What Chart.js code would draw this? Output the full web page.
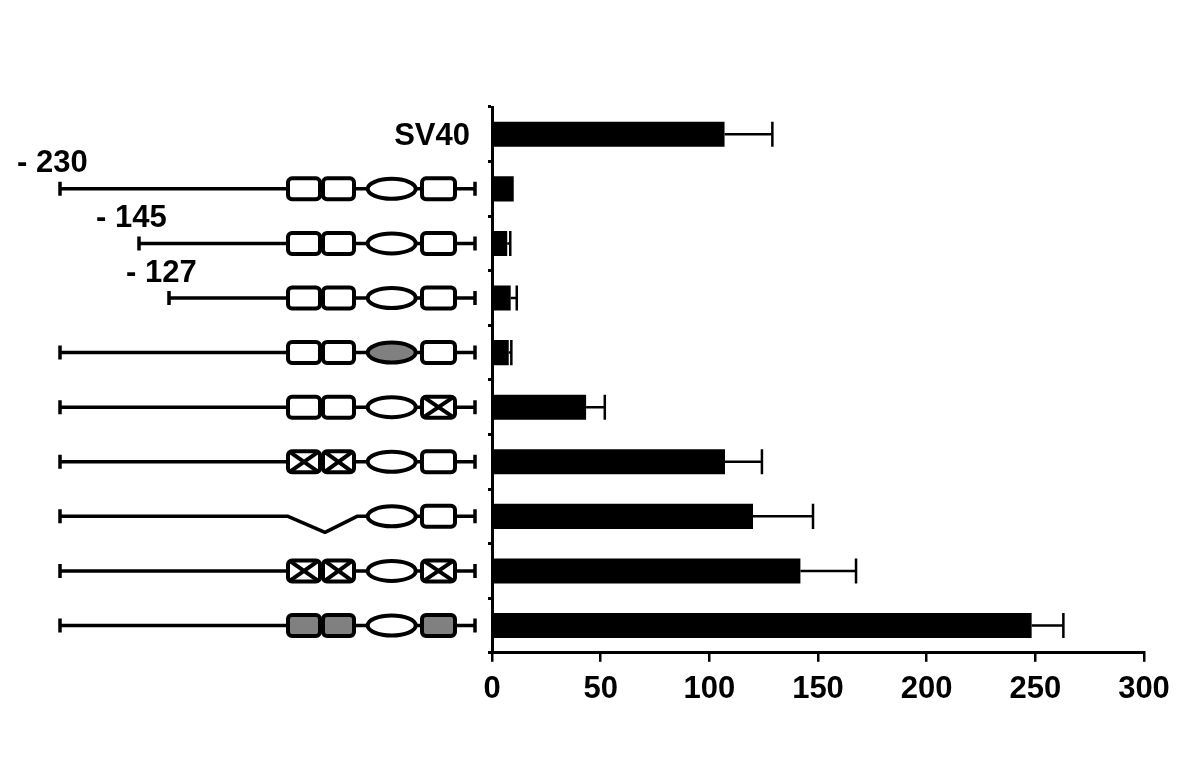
<!DOCTYPE html>
<html>
<head>
<meta charset="utf-8">
<script src="https://cdn.jsdelivr.net/npm/chart.js@4.4.1/dist/chart.umd.min.js"></script>
<style>
  html, body { margin: 0; padding: 0; background: #fff; }
  #chart { display: block; }
</style>
</head>
<body>
<canvas id="chart" width="1200" height="763"></canvas>
<script>
// constructs, top to bottom
const constructs = ['SV40', '-230', '-145', '-127', 'mutOval', 'mutBox3', 'mutBox12', 'delBox12', 'mutBox123', 'greyBox123'];
const activity = [107, 10, 7, 8.6, 7.7, 43.3, 107.2, 120.1, 141.9, 248.3];
const errHigh = [22, 0, 1.4, 2.8, 1.2, 8.6, 17, 27.6, 25.6, 14.6];
const xTicks = [0, 50, 100, 150, 200, 250, 300];

// schematic of each construct: left label, and state of box1, box2, oval, box3
const startLabels = ['', '- 230', '- 145', '- 127', '', '', '', '', '', ''];
const box1State = ['', 'open', 'open', 'open', 'open', 'open', 'cross', 'del', 'cross', 'grey'];
const box2State = ['', 'open', 'open', 'open', 'open', 'open', 'cross', 'del', 'cross', 'grey'];
const ovalState = ['', 'open', 'open', 'open', 'grey', 'open', 'open', 'open', 'open', 'open'];
const box3State = ['', 'open', 'open', 'open', 'open', 'cross', 'open', 'open', 'cross', 'grey'];

const FONT = "'Liberation Sans', Arial, sans-serif";
const GREY = '#808080';

function roundBox(ctx, x1, x2, cy, state) {
  const h = 21, r = 4;
  ctx.beginPath();
  ctx.roundRect(x1, cy - h / 2, x2 - x1, h, r);
  ctx.fillStyle = state === 'grey' ? GREY : '#fff';
  ctx.fill();
  ctx.stroke();
  if (state === 'cross') {
    ctx.beginPath();
    ctx.moveTo(x1 + 1, cy - h / 2);
    ctx.lineTo(x2 - 1, cy + h / 2);
    ctx.moveTo(x2 - 1, cy - h / 2);
    ctx.lineTo(x1 + 1, cy + h / 2);
    ctx.stroke();
  }
}

const schematicPlugin = {
  id: 'schematic',
  afterDraw(chart) {
    const ctx = chart.ctx;
    const yScale = chart.scales.y;
    ctx.save();
    ctx.strokeStyle = '#000';
    ctx.fillStyle = '#000';
    ctx.lineCap = 'butt';
    ctx.lineJoin = 'round';
    const starts = { '- 230': 60, '- 145': 139, '- 127': 169 };
    for (let i = 0; i < constructs.length; i++) {
      const cy = yScale.getPixelForValue(i);
      if (i === 0) {
        ctx.font = 'bold 31px ' + FONT;
        ctx.textAlign = 'right';
        ctx.textBaseline = 'middle';
        ctx.fillStyle = '#000';
        ctx.fillText(constructs[0], 470, cy + 2);
        continue;
      }
      const x0 = starts[startLabels[i]] || 60;
      if (startLabels[i]) {
        ctx.font = 'bold 31px ' + FONT;
        ctx.textAlign = 'left';
        ctx.textBaseline = 'middle';
        ctx.fillStyle = '#000';
        ctx.fillText(startLabels[i], x0 - 43, cy - 25);
      }
      ctx.lineWidth = 3.5;
      // start and end ticks
      ctx.beginPath();
      ctx.moveTo(x0, cy - 7); ctx.lineTo(x0, cy + 7);
      ctx.moveTo(475, cy - 7); ctx.lineTo(475, cy + 7);
      ctx.stroke();
      // backbone
      ctx.beginPath();
      ctx.moveTo(x0, cy);
      if (box1State[i] === 'del') {
        ctx.lineTo(288, cy);
        ctx.lineTo(325, cy + 16);
        ctx.lineTo(357, cy);
        ctx.lineTo(475, cy);
      } else {
        ctx.lineTo(475, cy);
      }
      ctx.stroke();
      ctx.lineWidth = 4;
      if (box1State[i] !== 'del') roundBox(ctx, 288, 320, cy, box1State[i]);
      if (box2State[i] !== 'del') roundBox(ctx, 323, 354, cy, box2State[i]);
      ctx.beginPath();
      ctx.ellipse(391.7, cy, 24, 10, 0, 0, Math.PI * 2);
      ctx.fillStyle = ovalState[i] === 'grey' ? GREY : '#fff';
      ctx.fill();
      ctx.stroke();
      roundBox(ctx, 422, 455, cy, box3State[i]);
    }
    ctx.restore();
  }
};

const errorBarPlugin = {
  id: 'errorBars',
  afterDatasetsDraw(chart) {
    const ctx = chart.ctx;
    const xScale = chart.scales.x;
    const meta = chart.getDatasetMeta(0);
    ctx.save();
    ctx.strokeStyle = '#000';
    ctx.lineWidth = 2.5;
    meta.data.forEach((bar, i) => {
      if (!errHigh[i]) return;
      const x1 = xScale.getPixelForValue(activity[i]);
      const x2 = xScale.getPixelForValue(activity[i] + errHigh[i]);
      const half = bar.height / 2;
      ctx.beginPath();
      ctx.moveTo(x1, bar.y);
      ctx.lineTo(x2, bar.y);
      ctx.moveTo(x2, bar.y - half);
      ctx.lineTo(x2, bar.y + half);
      ctx.stroke();
    });
    ctx.restore();
  }
};

new Chart(document.getElementById('chart'), {
  type: 'bar',
  data: {
    labels: constructs,
    datasets: [{
      data: activity,
      backgroundColor: '#000',
      borderWidth: 0,
      categoryPercentage: 0.92,
      barPercentage: 0.5
    }]
  },
  options: {
    indexAxis: 'y',
    responsive: false,
    animation: false,
    devicePixelRatio: 1,
    layout: { padding: { left: 488, right: 56, top: 107, bottom: 46 } },
    plugins: { legend: { display: false }, tooltip: { enabled: false } },
    scales: {
      x: {
        min: 0,
        max: 300,
        afterBuildTicks: (scale) => { scale.ticks = xTicks.map(v => ({ value: v })); },
        ticks: { color: '#000', padding: 9, font: { family: FONT, size: 31, weight: 'bold' } },
        grid: { drawOnChartArea: false, drawTicks: true, tickLength: 9, color: '#000', lineWidth: 2.5 },
        border: { color: '#000', width: 3 }
      },
      y: {
        offset: true,
        ticks: { display: false },
        grid: { drawOnChartArea: false, drawTicks: true, tickLength: 4, color: '#000', lineWidth: 3, offset: true },
        border: { color: '#000', width: 3 }
      }
    }
  },
  plugins: [errorBarPlugin, schematicPlugin]
});
</script>
</body>
</html>
